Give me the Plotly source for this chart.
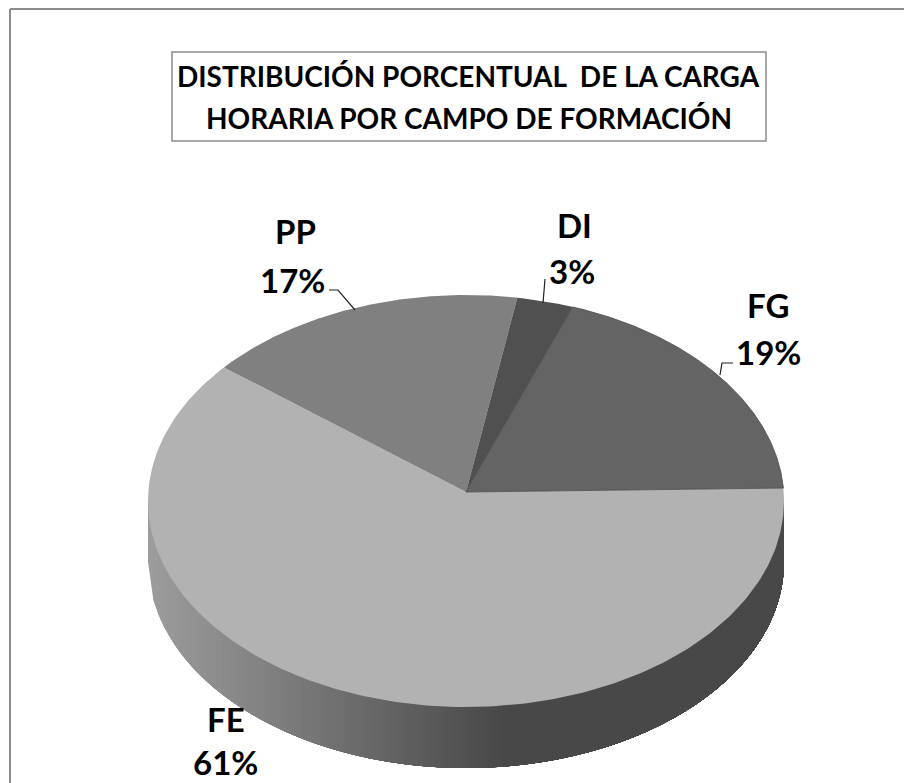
import numpy as np
import plotly.graph_objects as go

categories = ["FG", "DI", "PP", "FE"]
values = [19, 3, 17, 61]
slice_colors = ["#646464", "#505050", "#808080", "#b2b2b2"]
title_lines = ["DISTRIBUCIÓN PORCENTUAL  DE LA CARGA", "HORARIA POR CAMPO DE FORMACIÓN"]

W, H = 904, 783
CX, CY, RX, RY = 466, 501, 318, 206     # ellipse of the top face, in page pixels
PERSP = 0.0437                          # perspective shift of the pie centre
DEPTH = 61 / RY
START_DEG = 1.1


def px(x, y):
    return (x - CX) / RX, (CY - y) / RY


def project(theta):
    c, s = np.cos(theta), np.sin(theta)
    d = 1 + PERSP * s
    return c * np.sqrt(1 - PERSP ** 2) / d, (s + PERSP) / d


fig = go.Figure()

# side wall: nested polygons give a left-to-right gradient without seams
shade_left, shade_right, shade_end = 0x9c, 0x48, 0.11
for xi in np.linspace(-1, 1, 121):
    f = min(1.0, (xi + 1) / (1 + shade_end))
    g = int(round(shade_left + (shade_right - shade_left) * f))
    xs = np.linspace(xi, 1, 120)
    ys = -DEPTH - np.sqrt(np.clip(1 - xs ** 2, 0, 1))
    fig.add_trace(go.Scatter(
        x=np.r_[xi, xs, 1], y=np.r_[0, ys, 0], mode="lines", fill="toself",
        fillcolor=f"rgb({g},{g},{g})", line=dict(width=0), hoverinfo="skip"))

# top face: one wedge per category, angles from the values
total = sum(values)
edges = np.radians(START_DEG + np.r_[0, np.cumsum(values)] * 360 / total)
order = [3, 2, 1, 0]
for i in order:
    th = np.linspace(edges[i], edges[i + 1], 240)
    ax, ay = project(th)
    fig.add_trace(go.Scatter(
        x=np.r_[0, ax, 0], y=np.r_[PERSP, ay, PERSP], mode="lines", fill="toself",
        fillcolor=slice_colors[i],
        line=dict(width=0.8 if categories[i] == "FG" else 0, color="#4c4c4c"),
        name=categories[i], hoverinfo="skip"))

# leader lines
leaders = [
    [(329, 290), (338, 290), (355, 310)],
    [(545, 279), (543, 303)],
    [(733, 363), (722, 363), (720, 375)],
]
for pts in leaders:
    xy = [px(*p) for p in pts]
    fig.add_trace(go.Scatter(x=[p[0] for p in xy], y=[p[1] for p in xy], mode="lines",
                             line=dict(color="#222222", width=1.2), hoverinfo="skip"))

FONT = "Lato, Carlito, Calibri, sans-serif"
ann = []
label_pos = {"FG": (768, 305, 768, 352), "DI": (574, 225, 572, 271),
             "PP": (295, 231, 292, 280), "FE": (226, 719, 225, 762)}
for cat, val in zip(categories, values):
    x1, y1, x2, y2 = label_pos[cat]
    for x, y, t in ((x1, y1, cat), (x2, y2, f"{val}%")):
        ann.append(dict(x=x / W, y=1 - y / H, xref="paper", yref="paper", text=f"<b>{t}</b>",
                        showarrow=False, xanchor="center", yanchor="middle",
                        font=dict(family=FONT, size=33, color="#000000")))
for y, t in zip((76, 118), title_lines):
    ann.append(dict(x=468.5 / W, y=1 - y / H, xref="paper", yref="paper",
                    text=f"<b>{t.replace('  ', ' &nbsp;')}</b>",
                    showarrow=False, xanchor="center", yanchor="middle",
                    font=dict(family=FONT, size=28, color="#000000")))

shapes = [
    dict(type="rect", xref="paper", yref="paper", x0=172 / W, x1=766 / W,
         y0=1 - 141 / H, y1=1 - 52 / H, line=dict(color="#8c8c8c", width=1.5)),
    dict(type="line", xref="paper", yref="paper", x0=10 / W, x1=1, y0=1 - 9 / H, y1=1 - 9 / H,
         line=dict(color="#8c8c8c", width=2)),
    dict(type="line", xref="paper", yref="paper", x0=10 / W, x1=10 / W, y0=0, y1=1 - 9 / H,
         line=dict(color="#8c8c8c", width=2)),
]

x0, _ = px(0, 0)
x1, _ = px(W, 0)
_, y0 = px(0, H)
_, y1 = px(0, 0)
fig.update_layout(
    width=W, height=H, margin=dict(l=0, r=0, t=0, b=0), showlegend=False,
    paper_bgcolor="white", plot_bgcolor="white",
    xaxis=dict(range=[x0, x1], visible=False, fixedrange=True),
    yaxis=dict(range=[y0, y1], visible=False, fixedrange=True),
    annotations=ann, shapes=shapes,
)
fig.write_html("out.html", config={"displayModeBar": False},
               post_script="document.body.style.margin='0';document.body.style.overflow='hidden';")
